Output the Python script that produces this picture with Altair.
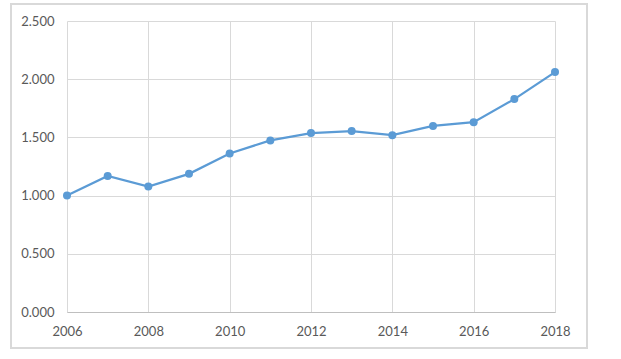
import altair as alt
import pandas as pd

years = [2006, 2007, 2008, 2009, 2010, 2011, 2012, 2013, 2014, 2015, 2016, 2017, 2018]
values = [1.000, 1.169, 1.078, 1.187, 1.362, 1.474, 1.537, 1.554, 1.519, 1.599, 1.631, 1.829, 2.061]
y_ticks = [0.0, 0.5, 1.0, 1.5, 2.0, 2.5]
x_ticks = [2006, 2008, 2010, 2012, 2014, 2016, 2018]

df = pd.DataFrame({"year": years, "value": values})

FONT = "Lato"
LABEL = "#595959"
GRID = "#D9D9D9"
BLUE = "#5B9BD5"

x_enc = alt.X(
    "year:Q",
    scale=alt.Scale(domain=[2006, 2018], nice=False, zero=False),
    axis=alt.Axis(
        values=x_ticks, format="d", title=None, ticks=False,
        labelPadding=13, labelColor=LABEL, labelFont=FONT, labelFontSize=13,
        grid=True, gridColor=GRID, domainColor="#BFBFBF", labelFlush=False,
    ),
)
y_enc = alt.Y(
    "value:Q",
    scale=alt.Scale(domain=[0, 2.5], nice=False),
    axis=alt.Axis(
        values=y_ticks, format=".3f", title=None, ticks=False,
        labelPadding=13, labelColor=LABEL, labelFont=FONT, labelFontSize=13,
        grid=True, gridColor=GRID, domain=False,
    ),
)

line = alt.Chart(df).mark_line(color=BLUE, strokeWidth=2.25).encode(x=x_enc, y=y_enc)
pts = alt.Chart(df).mark_circle(color=BLUE, size=64, opacity=1).encode(x="year:Q", y="value:Q")

border = alt.Chart(df).mark_rect(fill=None, stroke=GRID, strokeWidth=1.5).encode(
    x=alt.value(-56), x2=alt.value(520), y=alt.value(-17), y2=alt.value(327)
)

chart = (
    alt.layer(border, line, pts)
    .properties(
        width=488, height=291,
        autosize=alt.AutoSizeParams(type="none"),
        padding={"left": 67, "top": 21, "right": 66, "bottom": 47},
        background="white",
    )
    .configure_view(strokeWidth=0)
)

chart.save("out.html", embed_options={"renderer": "svg", "actions": False})
